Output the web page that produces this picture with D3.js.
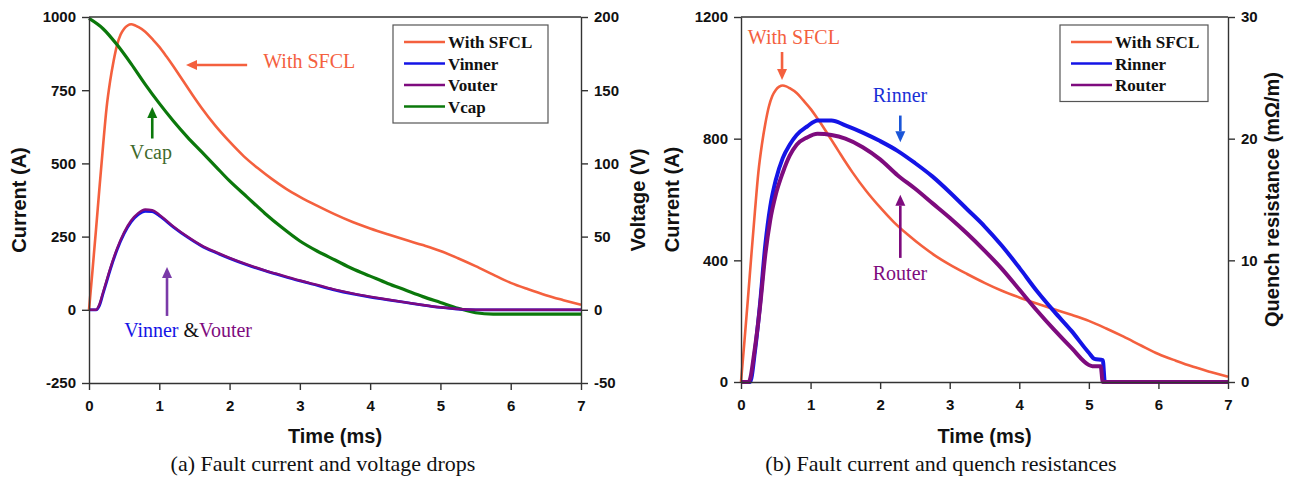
<!DOCTYPE html>
<html>
<head>
<meta charset="utf-8">
<script src="https://cdn.jsdelivr.net/npm/d3@7"></script>
<style>
  html, body { margin: 0; padding: 0; background: #fff; }
  svg { display: block; }
  .tick text { font-family: "Liberation Sans", Arial, sans-serif; font-weight: bold; font-size: 15px; fill: #111; }
  .axis path, .axis line { stroke: #333; stroke-width: 1.4px; }
</style>
</head>
<body>
<svg id="fig" width="1290" height="479"></svg>
<script>
// ---------- (a) fault current and voltage drops ----------
const timeSfcl = [0, 0.05, 0.1, 0.15, 0.2, 0.25, 0.3, 0.35, 0.4, 0.45, 0.5, 0.55, 0.6, 0.65, 0.7, 0.8, 0.9, 1.0, 1.1, 1.2, 1.3, 1.4, 1.5, 1.6, 1.8, 2.0, 2.2, 2.4, 2.6, 2.8, 3.0, 3.25, 3.5, 3.75, 4.0, 4.25, 4.5, 4.75, 5.0, 5.25, 5.5, 5.75, 6.0, 6.25, 6.5, 6.75, 7.0];
const currentSfcl = [0, 135, 275, 420, 560, 690, 780, 850, 905, 940, 960, 971, 975, 972, 966, 950, 925, 898, 866, 832, 796, 760, 724, 690, 628, 574, 525, 484, 447, 414, 386, 355, 326, 300, 278, 258, 239, 221, 201, 176, 149, 120, 92, 70, 50, 33, 17];

const timeVcap = [0, 0.2, 0.4, 0.6, 0.8, 1.0, 1.2, 1.4, 1.6, 1.8, 2.0, 2.25, 2.5, 2.75, 3.0, 3.25, 3.5, 3.75, 4.0, 4.25, 4.5, 4.75, 5.0, 5.25, 5.5, 5.75, 6.0, 6.5, 7.0];
const vcap = [199, 192, 181, 168, 154, 141, 129, 118, 108, 98, 88, 77, 66, 56, 47, 40, 34, 28, 23, 18, 13.5, 9, 5, 1, -2, -3, -3, -3, -3];

const timeVcoil = [0, 0.1, 0.15, 0.2, 0.25, 0.3, 0.4, 0.5, 0.6, 0.7, 0.8, 0.9, 1.0, 1.2, 1.4, 1.6, 1.8, 2.0, 2.25, 2.5, 2.75, 3.0, 3.25, 3.5, 3.75, 4.0, 4.25, 4.5, 4.75, 5.0, 5.25, 5.5, 6.0, 6.5, 7.0];
const vinner = [0, 0, 3, 11, 19, 27, 41, 52, 60, 65, 67.3, 67, 64.2, 56.5, 49.6, 43.6, 39.1, 35.1, 30.6, 26.7, 23.1, 19.7, 16.6, 13.5, 10.9, 8.7, 6.8, 5.0, 3.2, 1.6, 0.4, 0, 0, 0, 0];
const vouter = [0, 0, 4, 12, 20, 28, 42, 53, 61, 66, 68.5, 68, 65, 57, 50, 44, 39.5, 35.5, 31, 27, 23.5, 20, 17, 13.8, 11.2, 9, 7.0, 5.1, 3.3, 1.7, 0.5, 0, 0, 0, 0];

const currentTicksA = [-250, 0, 250, 500, 750, 1000];
const voltageTicks = [-50, 0, 50, 100, 150, 200];
const timeTicks = [0, 1, 2, 3, 4, 5, 6, 7];

// ---------- (b) fault current and quench resistances ----------
const timeRinner = [0, 0.13, 0.2, 0.27, 0.35, 0.42, 0.5, 0.6, 0.7, 0.8, 0.95, 1.1, 1.3, 1.5, 1.75, 2.0, 2.25, 2.5, 2.75, 3.0, 3.25, 3.5, 3.75, 4.0, 4.25, 4.5, 4.75, 5.0, 5.08, 5.2, 5.23, 7.0];
const rinner = [0, 0, 2.5, 6.2, 11.3, 14.4, 16.6, 18.4, 19.5, 20.3, 21.0, 21.5, 21.5, 21.1, 20.5, 19.8, 19.0, 18.0, 16.9, 15.6, 14.2, 12.8, 11.2, 9.4, 7.5, 5.8, 4.2, 2.4, 1.9, 1.8, 0, 0];

const timeRouter = [0, 0.11, 0.2, 0.27, 0.35, 0.42, 0.5, 0.6, 0.7, 0.8, 0.95, 1.1, 1.3, 1.5, 1.75, 2.0, 2.25, 2.5, 2.75, 3.0, 3.25, 3.5, 3.75, 4.0, 4.25, 4.5, 4.75, 5.0, 5.05, 5.17, 5.2, 7.0];
const router = [0, 0, 2.8, 6.0, 10.5, 13.3, 15.4, 17.2, 18.6, 19.5, 20.1, 20.4, 20.3, 20.0, 19.3, 18.3, 17.0, 15.9, 14.7, 13.5, 12.2, 10.8, 9.3, 7.6, 5.9, 4.3, 2.8, 1.4, 1.3, 1.3, 0, 0];

const currentTicksB = [0, 400, 800, 1200];
const resistanceTicks = [0, 10, 20, 30];

const C = {
  sfcl: "#f4603e",
  inner: "#1414e6",
  outer: "#7e0b7e",
  cap: "#0b780b",
  capText: "#3f6a2c",
  pairArrow: "#7a3aa8",
  innerText: "#1a2fd6",
  innerArrow: "#1a55d8"
};

const SANS = '"Liberation Sans", Arial, sans-serif';
const SERIF = '"Liberation Serif", "Times New Roman", serif';
const plainInt = d => String(d);   // hyphen-minus, as in the printed figure

const svg = d3.select("#fig");
svg.append("rect").attr("width", 1290).attr("height", 479).attr("fill", "#fff");

function zip(xs, ys) { return xs.map((x, i) => [x, ys[i]]); }

function drawSeries(g, x, y, xs, ys, color, width) {
  const line = d3.line().x(d => x(d[0])).y(d => y(d[1])).curve(d3.curveMonotoneX);
  g.append("path")
    .datum(zip(xs, ys))
    .attr("fill", "none")
    .attr("stroke", color)
    .attr("stroke-width", width)
    .attr("stroke-linejoin", "round")
    .attr("d", line);
}

function arrow(g, x1, y1, x2, y2, color) {
  // shaft from (x1,y1) to head tip at (x2,y2)
  const dx = x2 - x1, dy = y2 - y1, len = Math.hypot(dx, dy);
  const ux = dx / len, uy = dy / len;
  const hl = 11, hw = 5;
  const bx = x2 - ux * hl, by = y2 - uy * hl;
  g.append("line").attr("x1", x1).attr("y1", y1).attr("x2", bx).attr("y2", by)
    .attr("stroke", color).attr("stroke-width", 2.6);
  g.append("path")
    .attr("d", `M${x2},${y2}L${bx - uy * hw},${by + ux * hw}L${bx + uy * hw},${by - ux * hw}Z`)
    .attr("fill", color);
}

function frame(g, x, yL, yR, opts) {
  const [x0, x1] = x.range();
  const [y0, y1] = yL.range();
  g.append("g").attr("class", "axis").attr("transform", `translate(0,${y0})`)
    .call(d3.axisBottom(x).tickValues(timeTicks).tickFormat(plainInt).tickSize(7).tickSizeOuter(0).tickPadding(10));
  g.append("g").attr("class", "axis").attr("transform", `translate(${x0},0)`)
    .call(d3.axisLeft(yL).tickValues(opts.leftTicks).tickFormat(plainInt).tickSize(7).tickSizeOuter(0).tickPadding(6));
  g.append("g").attr("class", "axis").attr("transform", `translate(${x1},0)`)
    .call(d3.axisRight(yR).tickValues(opts.rightTicks).tickFormat(plainInt).tickSize(7).tickSizeOuter(0).tickPadding(6));
  g.append("line").attr("x1", x0).attr("x2", x1).attr("y1", y1).attr("y2", y1)
    .attr("stroke", "#333").attr("stroke-width", 1.4);

  const midY = (y0 + y1) / 2;
  g.append("text").attr("transform", `translate(${opts.leftTitleX},${midY}) rotate(-90)`)
    .attr("text-anchor", "middle").attr("font-family", SANS).attr("font-weight", "bold")
    .attr("font-size", 20).attr("fill", "#111").text(opts.leftTitle);
  g.append("text").attr("transform", `translate(${opts.rightTitleX},${midY}) rotate(-90)`)
    .attr("text-anchor", "middle").attr("font-family", SANS).attr("font-weight", "bold")
    .attr("font-size", 20).attr("fill", "#111").text(opts.rightTitle);
  g.append("text").attr("x", (x0 + x1) / 2).attr("y", 443)
    .attr("text-anchor", "middle").attr("font-family", SANS).attr("font-weight", "bold")
    .attr("font-size", 20).attr("fill", "#111").text("Time (ms)");
  g.append("text").attr("x", opts.captionX).attr("y", 471)
    .attr("text-anchor", "middle").attr("font-family", SERIF)
    .attr("font-size", 22).attr("fill", "#111").text(opts.caption);
}

function legend(g, left, top, width, items) {
  const rowH = 21.5;
  g.append("rect").attr("x", left).attr("y", top).attr("width", width)
    .attr("height", items.length * rowH + 12)
    .attr("fill", "#fff").attr("stroke", "#555").attr("stroke-width", 1.2);
  items.forEach((it, i) => {
    const cy = top + 17 + i * rowH;
    g.append("line").attr("x1", left + 11).attr("x2", left + 52).attr("y1", cy).attr("y2", cy)
      .attr("stroke", it.color).attr("stroke-width", 2.6);
    g.append("text").attr("x", left + 55).attr("y", cy + 6)
      .attr("font-family", SERIF).attr("font-weight", "bold").attr("font-size", 17)
      .attr("fill", "#111").text(it.label);
  });
}

// ---------- panel (a) ----------
{
  const g = svg.append("g");
  const x = d3.scaleLinear([0, 7], [89, 581]);
  const yI = d3.scaleLinear([-250, 1000], [383, 17]);
  const yV = d3.scaleLinear([-50, 200], [383, 17]);

  drawSeries(g, x, yI, timeSfcl, currentSfcl, C.sfcl, 2.6);
  drawSeries(g, x, yV, timeVcap, vcap, C.cap, 3.2);
  drawSeries(g, x, yV, timeVcoil, vinner, C.inner, 2.8);
  drawSeries(g, x, yV, timeVcoil, vouter, C.outer, 2.4);

  frame(g, x, yI, yV, {
    leftTicks: currentTicksA, rightTicks: voltageTicks,
    leftTitle: "Current (A)", leftTitleX: 26,
    rightTitle: "Voltage (V)", rightTitleX: 645,
    caption: "(a) Fault current and voltage drops", captionX: 323
  });

  legend(g, 393, 25, 155, [
    { label: "With SFCL", color: C.sfcl },
    { label: "Vinner", color: C.inner },
    { label: "Vouter", color: C.outer },
    { label: "Vcap", color: C.cap }
  ]);

  // annotations
  arrow(g, x(2.25), yI(836), x(1.38), yI(836), C.sfcl);
  g.append("text").attr("x", x(2.48)).attr("y", yI(826))
    .attr("font-family", SERIF).attr("font-size", 20).attr("fill", C.sfcl).text("With SFCL");

  arrow(g, x(0.9), yV(117), x(0.9), yV(138.5), C.cap);
  g.append("text").attr("x", x(0.88)).attr("y", yV(103)).attr("text-anchor", "middle")
    .attr("font-family", SERIF).attr("font-size", 20).attr("fill", C.capText).text("Vcap");

  arrow(g, x(1.11), yV(-4.2), x(1.11), yV(29.2), C.pairArrow);
  const t = g.append("text").attr("x", x(0.5)).attr("y", yV(-18.6))
    .attr("font-family", SERIF).attr("font-size", 20);
  t.append("tspan").attr("fill", C.inner).text("Vinner ");
  t.append("tspan").attr("fill", "#111").text("&");
  t.append("tspan").attr("fill", C.outer).text("Vouter");
}

// ---------- panel (b) ----------
{
  const g = svg.append("g");
  const x = d3.scaleLinear([0, 7], [741, 1228]);
  const yI = d3.scaleLinear([0, 1200], [382, 17]);
  const yR = d3.scaleLinear([0, 30], [382, 17]);

  drawSeries(g, x, yI, timeSfcl, currentSfcl, C.sfcl, 2.6);
  drawSeries(g, x, yR, timeRinner, rinner, C.inner, 4);
  drawSeries(g, x, yR, timeRouter, router, C.outer, 4);

  frame(g, x, yI, yR, {
    leftTicks: currentTicksB, rightTicks: resistanceTicks,
    leftTitle: "Current (A)", leftTitleX: 679,
    rightTitle: "Quench resistance (m\u03A9/m)", rightTitleX: 1279,
    caption: "(b) Fault current and quench resistances", captionX: 941
  });

  legend(g, 1060, 25, 148, [
    { label: "With SFCL", color: C.sfcl },
    { label: "Rinner", color: C.inner },
    { label: "Router", color: C.outer }
  ]);

  arrow(g, x(0.59), yI(1085), x(0.59), yI(993), C.sfcl);
  g.append("text").attr("x", x(0.76)).attr("y", yI(1111)).attr("text-anchor", "middle")
    .attr("font-family", SERIF).attr("font-size", 20).attr("fill", C.sfcl).text("With SFCL");

  arrow(g, x(2.29), yR(21.9), x(2.29), yR(19.7), C.innerArrow);
  g.append("text").attr("x", x(2.285)).attr("y", yR(23.0)).attr("text-anchor", "middle")
    .attr("font-family", SERIF).attr("font-size", 20).attr("fill", C.innerText).text("Rinner");

  arrow(g, x(2.29), yR(10.2), x(2.29), yR(15.4), C.outer);
  g.append("text").attr("x", x(2.285)).attr("y", yR(8.4)).attr("text-anchor", "middle")
    .attr("font-family", SERIF).attr("font-size", 20).attr("fill", C.outer).text("Router");
}
</script>
</body>
</html>
